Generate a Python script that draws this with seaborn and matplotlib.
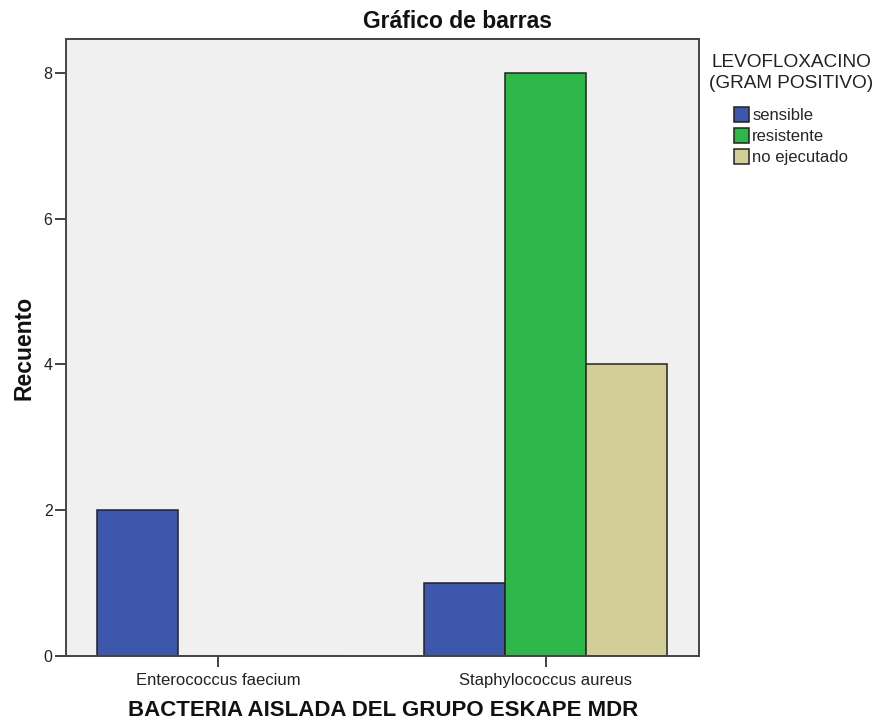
import matplotlib
matplotlib.use("Agg")
import matplotlib.pyplot as plt
import seaborn as sns
import pandas as pd

bacterias = ["Enterococcus faecium", "Enterococcus faecium", "Enterococcus faecium",
             "Staphylococcus aureus", "Staphylococcus aureus", "Staphylococcus aureus"]
resultado = ["sensible", "resistente", "no ejecutado",
             "sensible", "resistente", "no ejecutado"]
recuento = [2, 0, 0, 1, 8, 4]

niveles = ["sensible", "resistente", "no ejecutado"]
colores = ["#3C57AB", "#2FB84A", "#D3CE97"]

df = pd.DataFrame({"bacteria": bacterias, "resultado": resultado, "recuento": recuento})

sns.set_style("ticks")
plt.rcParams["font.family"] = ["Liberation Sans", "DejaVu Sans"]

W, H = 878, 723
fig = plt.figure(figsize=(W / 100, H / 100), dpi=100)
left, right, top, bottom = 66.5, 699, 39, 656
ax = fig.add_axes([left / W, (H - bottom) / H, (right - left) / W, (bottom - top) / H])
ax.set_facecolor("#F0F0F0")

sns.barplot(data=df, x="bacteria", y="recuento", hue="resultado",
            hue_order=niveles, palette=colores, saturation=1, width=0.7425,
            edgecolor="#222222", linewidth=1.1, errorbar=None, ax=ax)

ax.set_xlim(-0.463, 1.468)
ax.set_ylim(0, 8.465)
ax.set_yticks([0, 2, 4, 6, 8])
ax.tick_params(axis="both", labelsize=11.5, colors="#333333", length=8, width=1.3,
               labelcolor="#222222", pad=2)
ax.tick_params(axis="x", labelsize=12, length=8, pad=4)
for s in ax.spines.values():
    s.set_color("#444444")
    s.set_linewidth(1.4)

fig.text(457.5 / W, 1 - 21 / H, "Gráfico de barras", fontsize=16.5,
         fontweight="bold", ha="center", va="center", color="#111111")
ax.set_xlabel("BACTERIA AISLADA DEL GRUPO ESKAPE MDR", fontsize=16,
              fontweight="bold", labelpad=9, color="#111111")
ax.set_ylabel("Recuento", fontsize=16.5, fontweight="bold", labelpad=6,
              color="#111111")

leg = fig.legend(*ax.get_legend_handles_labels(),
                 title="LEVOFLOXACINO\n(GRAM POSITIVO)", loc="upper center",
                 bbox_to_anchor=(791 / W, 1 - 42 / H), frameon=False, fontsize=12,
                 title_fontsize=13.7, handlelength=0.9, handleheight=1.0,
                 handletextpad=0.2, labelspacing=0.3, borderpad=0.2)
ax.get_legend().remove()
leg._legend_box.align = "center"
leg._legend_box.sep = 11
leg.get_title().set_multialignment("center")
leg.get_title().set_linespacing(1.3)
leg.get_title().set_color("#222222")
for h in leg.get_patches():
    h.set_edgecolor("#222222")
    h.set_linewidth(1.1)

fig.savefig("out.png", dpi=100)
